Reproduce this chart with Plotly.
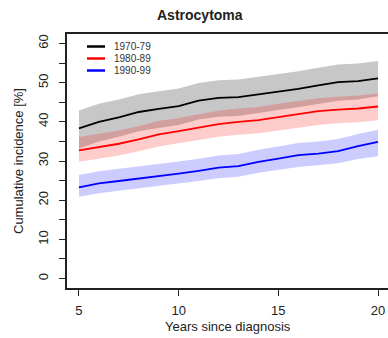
import plotly.graph_objects as go

years = [5, 6, 7, 8, 9, 10, 11, 12, 13, 14, 15, 16, 17, 18, 19, 20]

series_names = ["1970-79", "1980-89", "1990-99"]

black = [38.3, 40.0, 41.1, 42.5, 43.3, 44.0, 45.4, 46.1, 46.3, 47.0, 47.7, 48.4, 49.3, 50.1, 50.4, 51.1]
black_hi = [42.9, 44.6, 45.7, 47.0, 47.8, 48.5, 49.9, 50.6, 50.8, 51.5, 52.2, 52.9, 53.8, 54.6, 54.9, 55.5]
black_lo = [33.2, 35.0, 36.2, 37.6, 38.4, 39.2, 40.6, 41.3, 41.5, 42.3, 43.0, 43.7, 44.6, 45.4, 45.7, 46.5]

red = [32.7, 33.6, 34.4, 35.5, 36.8, 37.6, 38.5, 39.4, 40.0, 40.4, 41.2, 41.9, 42.7, 43.1, 43.4, 43.9]
red_hi = [36.1, 37.0, 37.8, 38.9, 40.2, 41.0, 41.9, 42.8, 43.4, 43.8, 44.6, 45.3, 46.0, 46.4, 46.7, 47.2]
red_lo = [29.8, 30.6, 31.4, 32.5, 33.7, 34.5, 35.3, 36.2, 36.7, 37.1, 37.8, 38.5, 39.2, 39.6, 39.9, 40.4]

blue = [23.3, 24.3, 24.9, 25.5, 26.1, 26.8, 27.5, 28.3, 28.7, 29.8, 30.6, 31.5, 31.9, 32.5, 33.8, 34.9]
blue_hi = [26.4, 27.4, 28.0, 28.6, 29.2, 29.9, 30.6, 31.4, 31.8, 32.9, 33.7, 34.6, 35.0, 35.6, 36.9, 38.0]
blue_lo = [20.9, 21.8, 22.4, 23.0, 23.6, 24.2, 24.9, 25.6, 26.0, 27.0, 27.7, 28.5, 28.9, 29.4, 30.5, 31.2]

y_tickvals = [0, 5, 10, 15, 20, 25, 30, 35, 40, 45, 50, 55, 60]
y_ticktext = ["0", "", "10", "", "20", "", "30", "", "40", "", "50", "", "60"]
x_tickvals = [5, 10, 15, 20]

W, H = 388, 338
L, R, T, B = 67, 0, 34, 50
PW, PH = W - L - R, H - T - B


def px(x):
    return (x - L) / PW


def py(y):
    return 1 - (y - T) / PH


FONT = "Liberation Sans, Arial, sans-serif"
TXT = "#222222"

fig = go.Figure()

groups = [
    (black, black_hi, black_lo, "#000000", "rgba(0,0,0,0.22)"),
    (red, red_hi, red_lo, "#ff0000", "rgba(255,0,0,0.2)"),
    (blue, blue_hi, blue_lo, "#0000ff", "rgba(0,0,255,0.2)"),
]

for (mid, hi, lo, col, fillc), name in zip(groups, series_names):
    fig.add_trace(go.Scatter(x=years, y=lo, mode="lines", line=dict(width=0),
                             showlegend=False, hoverinfo="skip"))
    fig.add_trace(go.Scatter(x=years, y=hi, mode="lines", line=dict(width=0),
                             fill="tonexty", fillcolor=fillc,
                             showlegend=False, hoverinfo="skip"))
for (mid, hi, lo, col, fillc), name in zip(groups, series_names):
    fig.add_trace(go.Scatter(x=years, y=mid, mode="lines", name=name,
                             line=dict(color=col, width=1.8), showlegend=False))

# manual legend
shapes = []
annotations = []
leg_y = [46.5, 58.5, 70.5]
for (mid, hi, lo, col, fillc), name, ly in zip(groups, series_names, leg_y):
    shapes.append(dict(type="line", xref="paper", yref="paper",
                       x0=px(87), x1=px(105), y0=py(ly), y1=py(ly),
                       line=dict(color=col, width=2.5)))
    annotations.append(dict(xref="paper", yref="paper", x=px(112), y=py(ly),
                            text=name, showarrow=False, xanchor="left",
                            yanchor="middle",
                            font=dict(family=FONT, size=10, color="#333333")))

annotations.append(dict(xref="paper", yref="paper", x=px(200), y=py(15),
                        text="<b>Astrocytoma</b>", showarrow=False,
                        xanchor="center", yanchor="middle",
                        font=dict(family=FONT, size=14, color=TXT)))
annotations.append(dict(xref="paper", yref="paper", x=px(228), y=py(326),
                        text="Years since diagnosis", showarrow=False,
                        xanchor="center", yanchor="middle",
                        font=dict(family=FONT, size=13, color=TXT)))
annotations.append(dict(xref="paper", yref="paper", x=px(18), y=py(161),
                        text="Cumulative incidence [%]", showarrow=False,
                        xanchor="center", yanchor="middle", textangle=-90,
                        font=dict(family=FONT, size=13, color=TXT)))

fig.update_layout(
    width=W, height=H,
    margin=dict(l=L, r=R, t=T, b=B),
    paper_bgcolor="white", plot_bgcolor="white",
    showlegend=False,
    shapes=shapes, annotations=annotations,
    font=dict(family=FONT, size=13, color=TXT),
)
fig.update_xaxes(range=[4.4, 20.5], tickvals=x_tickvals, ticks="outside",
                 ticklen=6, tickcolor="#222", tickwidth=1,
                 showline=True, linecolor="#222", linewidth=1.5, mirror=True,
                 showgrid=False, zeroline=False, ticklabelstandoff=4,
                 tickfont=dict(family=FONT, size=13, color=TXT))
fig.update_yaxes(range=[-2.4, 62.4], tickvals=y_tickvals, ticktext=y_ticktext,
                 ticks="outside", ticklen=6, tickcolor="#222", tickwidth=1,
                 showline=True, linecolor="#222", linewidth=1.5,
                 showgrid=False, zeroline=False, tickangle=-90,
                 ticklabelstandoff=6,
                 tickfont=dict(family=FONT, size=13, color=TXT))

fig.write_html("out.html",
               config={"displayModeBar": False},
               post_script="document.body.style.margin='0';"
                           "document.body.style.overflow='hidden';")
